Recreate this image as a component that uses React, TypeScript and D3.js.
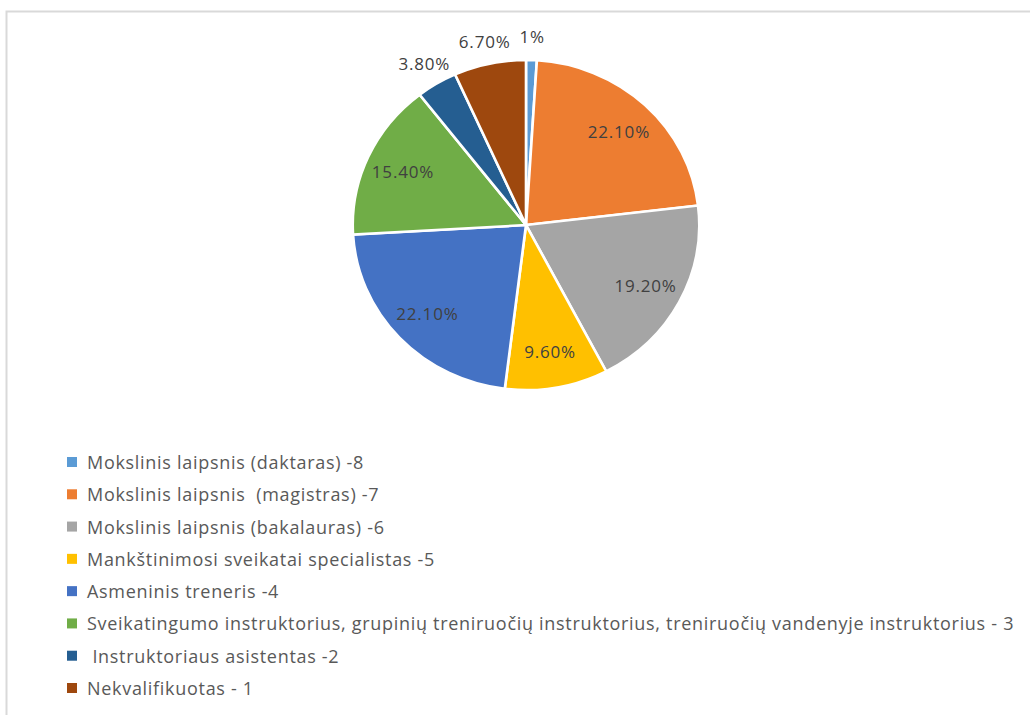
import * as React from 'react';
import * as d3 from 'd3';

const categories = [
    'Mokslinis laipsnis (daktaras) -8',
    'Mokslinis laipsnis  (magistras) -7',
    'Mokslinis laipsnis (bakalauras) -6',
    'Mankštinimosi sveikatai specialistas -5',
    'Asmeninis treneris -4',
    'Sveikatingumo instruktorius, grupinių treniruočių instruktorius, treniruočių vandenyje instruktorius - 3',
    ' Instruktoriaus asistentas -2',
    'Nekvalifikuotas - 1',
];
const values = [1, 22.1, 19.2, 9.6, 22.1, 15.4, 3.8, 6.7];
const valueLabels = ['1%', '22.10%', '19.20%', '9.60%', '22.10%', '15.40%', '3.80%', '6.70%'];
const colors = ['#5B9BD5', '#ED7D31', '#A5A5A5', '#FFC000', '#4472C4', '#70AD47', '#255E91', '#9E480E'];

const cx = 526;
const cy = 225;
const radius = 165;
const sx = 1.05; // the picture is slightly wider than tall

export default function App() {
    const pie = d3.pie<number>().value((d) => d).sort(null);
    const arcs = pie(values);
    const arc = d3.arc<d3.PieArcDatum<number>>().innerRadius(0).outerRadius(radius);
    const inLabel = d3.arc<d3.PieArcDatum<number>>().innerRadius(radius * 0.78).outerRadius(radius * 0.78);
    const outLabel = d3.arc<d3.PieArcDatum<number>>().innerRadius(radius * 1.14).outerRadius(radius * 1.14);

    const legendY = d3.scaleLinear().domain([0, categories.length - 1]).range([462, 688]);

    return (
        <svg width={1030} height={715} style={{position: 'absolute', left: 0, top: 0}}
             fontFamily="'Open Sans', sans-serif">
            <rect x={0} y={0} width={1030} height={715} fill="#fff"/>
            <path d="M6.5,720 L6.5,11.5 L1030,11.5" fill="none" stroke="#d9d9d9" strokeWidth={2}/>
            <g transform={`translate(${cx},${cy}) scale(${sx},1)`}>
                {arcs.map((a, i) => (
                    <path key={i} d={arc(a) || ''} fill={colors[i]} stroke="#fff" strokeWidth={2.5}/>
                ))}
            </g>
            {arcs.map((a, i) => {
                const c = values[i] < 8 ? outLabel.centroid(a) : inLabel.centroid(a);
                return (
                    <text key={i} x={cx + c[0] * sx} y={cy + c[1]} textAnchor="middle"
                          dominantBaseline="central" fontSize={17} letterSpacing={0.8}
                          fill="#404040">{valueLabels[i]}</text>
                );
            })}
            {categories.map((c, i) => (
                <g key={i} transform={`translate(0,${legendY(i)})`}>
                    <rect x={67} y={-5} width={10} height={10} fill={colors[i]}/>
                    <text x={87} y={0} dominantBaseline="central" fontSize={18} letterSpacing={0.7}
                          fill="#595959" style={{whiteSpace: 'pre'}}>{c}</text>
                </g>
            ))}
        </svg>
    );
}
